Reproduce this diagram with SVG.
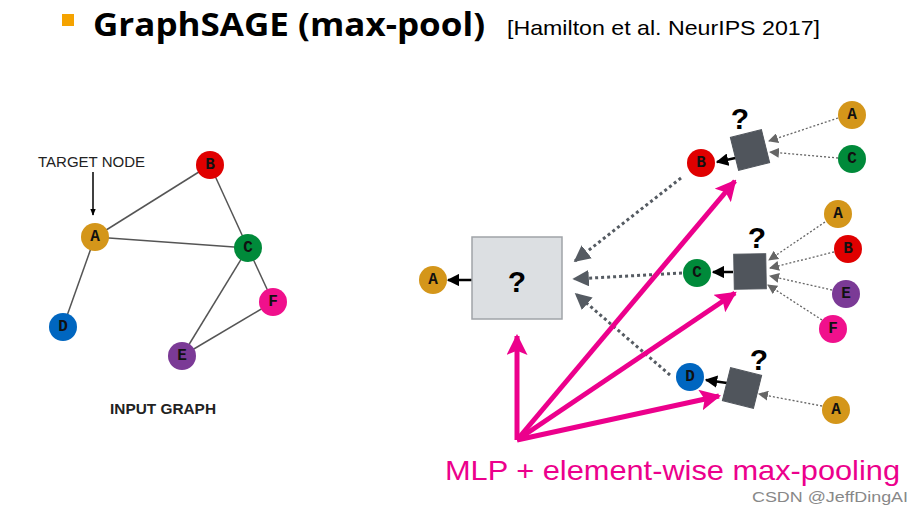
<svg xmlns="http://www.w3.org/2000/svg" width="923" height="516" viewBox="0 0 923 516">
<style>
.lbl{font-family:"Liberation Mono","Courier New",monospace;font-weight:bold;font-size:16px;fill:#111;text-anchor:middle;dominant-baseline:central}
.edge{stroke:#555;stroke-width:1.5;fill:none}
.dot{stroke:#666;stroke-width:1.3;stroke-dasharray:2 2;fill:none}
.gdash{stroke:#555b62;stroke-width:3;stroke-dasharray:3 3;fill:none}
.pink{stroke:#ec008c;stroke-width:5;fill:none}
.blk{stroke:#000;stroke-width:2.5;fill:none}
.sq{fill:#50555c;stroke:#50555c}
.q{font-family:"Liberation Sans",Arial,sans-serif;font-weight:bold;font-size:30px;fill:#000;text-anchor:middle}
</style>
<defs>
<marker id="mBlk" viewBox="0 0 10 10" refX="9" refY="5" markerWidth="5" markerHeight="5" orient="auto" markerUnits="strokeWidth"><path d="M0,0 L10,5 L0,10 z" fill="#000"/></marker>
<marker id="mArrow" viewBox="0 0 10 10" refX="9" refY="5" markerWidth="7" markerHeight="7" orient="auto" markerUnits="userSpaceOnUse"><path d="M0,1 L10,5 L0,9 z" fill="#000"/></marker>
<marker id="mDot" viewBox="0 0 10 10" refX="9" refY="5" markerWidth="10" markerHeight="10" orient="auto" markerUnits="userSpaceOnUse"><path d="M0,0 L10,5 L0,10 z" fill="#666"/></marker>
<marker id="mG" viewBox="0 0 10 10" refX="9" refY="5" markerWidth="5.5" markerHeight="5.5" orient="auto" markerUnits="strokeWidth"><path d="M0,0 L10,5 L0,10 z" fill="#555b62"/></marker>
<marker id="mP" viewBox="0 0 10 10" refX="9" refY="5" markerWidth="4.2" markerHeight="4.2" orient="auto" markerUnits="strokeWidth"><path d="M0,0 L10,5 L0,10 L2,5 z" fill="#ec008c"/></marker>
</defs>
<rect width="923" height="516" fill="#fff"/>

<g id="title">
<rect x="62" y="14" width="12" height="12" fill="#f5a300"/>
<text x="93" y="36" font-family="'Open Sans','Noto Sans',sans-serif" font-weight="bold" font-size="33" textLength="392" lengthAdjust="spacingAndGlyphs" fill="#000">GraphSAGE (max-pool)</text>
<text x="507" y="35" font-family="'Liberation Sans',Arial,sans-serif" font-size="21" textLength="313" lengthAdjust="spacingAndGlyphs" fill="#000">[Hamilton et al. NeurIPS 2017]</text>
</g>

<g id="input-graph-edges">
<line class="edge" x1="95" y1="237" x2="210" y2="165"/>
<line class="edge" x1="95" y1="237" x2="248" y2="248"/>
<line class="edge" x1="95" y1="237" x2="63" y2="327"/>
<line class="edge" x1="210" y1="165" x2="248" y2="248"/>
<line class="edge" x1="248" y1="248" x2="182" y2="356"/>
<line class="edge" x1="248" y1="248" x2="273" y2="302"/>
<line class="edge" x1="273" y1="302" x2="182" y2="356"/>
</g>
<g id="target-label">
<text x="38" y="167" font-family="'Liberation Sans',Arial,sans-serif" font-size="14" fill="#222" textLength="107" lengthAdjust="spacingAndGlyphs">TARGET NODE</text>
<line x1="93" y1="172" x2="93" y2="215" stroke="#000" stroke-width="1.5" marker-end="url(#mArrow)"/>
</g>
<g id="in-A"><circle cx="95" cy="237" r="14" fill="#d4961a"/><text class="lbl" x="95" y="237">A</text></g>
<g id="in-B"><circle cx="210" cy="165" r="14" fill="#e00000"/><text class="lbl" x="210" y="165">B</text></g>
<g id="in-C"><circle cx="248" cy="248" r="14" fill="#008a3a"/><text class="lbl" x="248" y="248">C</text></g>
<g id="in-D"><circle cx="63" cy="327" r="14" fill="#0066c0"/><text class="lbl" x="63" y="327">D</text></g>
<g id="in-E"><circle cx="182" cy="356" r="14" fill="#7b3a96"/><text class="lbl" x="182" y="356">E</text></g>
<g id="in-F"><circle cx="273" cy="302" r="14" fill="#f0108c"/><text class="lbl" x="273" y="302">F</text></g>
<text x="110" y="414" font-family="'Liberation Sans',Arial,sans-serif" font-weight="bold" font-size="14" fill="#222" textLength="106" lengthAdjust="spacingAndGlyphs">INPUT GRAPH</text>

<g id="connectors">
<line class="dot" x1="838" y1="118" x2="769" y2="141" marker-end="url(#mDot)"/>
<line class="dot" x1="838" y1="158" x2="770" y2="152" marker-end="url(#mDot)"/>
<line class="dot" x1="825" y1="222" x2="769" y2="260" marker-end="url(#mDot)"/>
<line class="dot" x1="834" y1="252" x2="770" y2="268" marker-end="url(#mDot)"/>
<line class="dot" x1="832" y1="290" x2="770" y2="276" marker-end="url(#mDot)"/>
<line class="dot" x1="822" y1="320" x2="768" y2="285" marker-end="url(#mDot)"/>
<line class="dot" x1="822" y1="406" x2="759" y2="394" marker-end="url(#mDot)"/>
<line class="blk" x1="740" y1="157" x2="717" y2="162" marker-end="url(#mBlk)"/>
<line class="blk" x1="733" y1="272" x2="713" y2="272" marker-end="url(#mBlk)"/>
<line class="blk" x1="727" y1="383" x2="706" y2="380" marker-end="url(#mBlk)"/>
<line class="blk" x1="472" y1="280" x2="448" y2="280" marker-end="url(#mBlk)"/>
<line class="gdash" x1="681" y1="178" x2="575" y2="261" marker-end="url(#mG)"/>
<line class="gdash" x1="682" y1="273" x2="574" y2="279" marker-end="url(#mG)"/>
<line class="gdash" x1="670" y1="375" x2="576" y2="294" marker-end="url(#mG)"/>
<line class="pink" x1="517" y1="440" x2="517" y2="336" marker-end="url(#mP)"/>
<line class="pink" x1="517" y1="440" x2="735" y2="181" marker-end="url(#mP)"/>
<line class="pink" x1="517" y1="440" x2="735" y2="293" marker-end="url(#mP)"/>
<line class="pink" x1="517" y1="440" x2="719" y2="396" marker-end="url(#mP)"/>
</g>

<g id="agg-box">
<rect x="472" y="237" width="90" height="82" fill="#dcdfe2" stroke="#a0a4a8" stroke-width="1.5"/>
<text class="q" x="517" y="292" font-size="36">?</text>
</g>
<g id="out-A"><circle cx="433" cy="280" r="14" fill="#d4961a"/><text class="lbl" x="433" y="280">A</text></g>

<g id="sq-B"><rect class="sq" x="-16" y="-17" width="32" height="34" transform="translate(750,150) rotate(-14)"/><text class="q" x="740" y="129">?</text></g>
<g id="n-B"><circle cx="701" cy="163" r="14" fill="#e00000"/><text class="lbl" x="701" y="163">B</text></g>
<g id="n-B-A"><circle cx="852" cy="115" r="14" fill="#d4961a"/><text class="lbl" x="852" y="115">A</text></g>
<g id="n-B-C"><circle cx="852" cy="159" r="14" fill="#008a3a"/><text class="lbl" x="852" y="159">C</text></g>

<g id="sq-C"><rect class="sq" x="734" y="254" width="32" height="35" transform="rotate(-1 750 271)"/><text class="q" x="757" y="248">?</text></g>
<g id="n-C"><circle cx="697" cy="273" r="14" fill="#008a3a"/><text class="lbl" x="697" y="273">C</text></g>
<g id="n-C-A"><circle cx="838" cy="214" r="14" fill="#d4961a"/><text class="lbl" x="838" y="214">A</text></g>
<g id="n-C-B"><circle cx="848" cy="249" r="14" fill="#e00000"/><text class="lbl" x="848" y="249">B</text></g>
<g id="n-C-E"><circle cx="846" cy="294" r="14" fill="#7b3a96"/><text class="lbl" x="846" y="294">E</text></g>
<g id="n-C-F"><circle cx="833" cy="329" r="14" fill="#f0108c"/><text class="lbl" x="833" y="329">F</text></g>

<g id="sq-D"><rect class="sq" x="-16" y="-17" width="32" height="34" transform="translate(742,388) rotate(14)"/><text class="q" x="759" y="370">?</text></g>
<g id="n-D"><circle cx="690" cy="377" r="14" fill="#0066c0"/><text class="lbl" x="690" y="377">D</text></g>
<g id="n-D-A"><circle cx="836" cy="410" r="14" fill="#d4961a"/><text class="lbl" x="836" y="410">A</text></g>

<text x="445" y="480" font-family="'Liberation Sans',Arial,sans-serif" font-size="28" fill="#ec008c" textLength="455" lengthAdjust="spacingAndGlyphs">MLP + element-wise max-pooling</text>
<text x="752" y="502" font-family="'Liberation Sans',Arial,sans-serif" font-size="14" fill="#888" textLength="156" lengthAdjust="spacingAndGlyphs">CSDN @JeffDingAI</text>
</svg>
